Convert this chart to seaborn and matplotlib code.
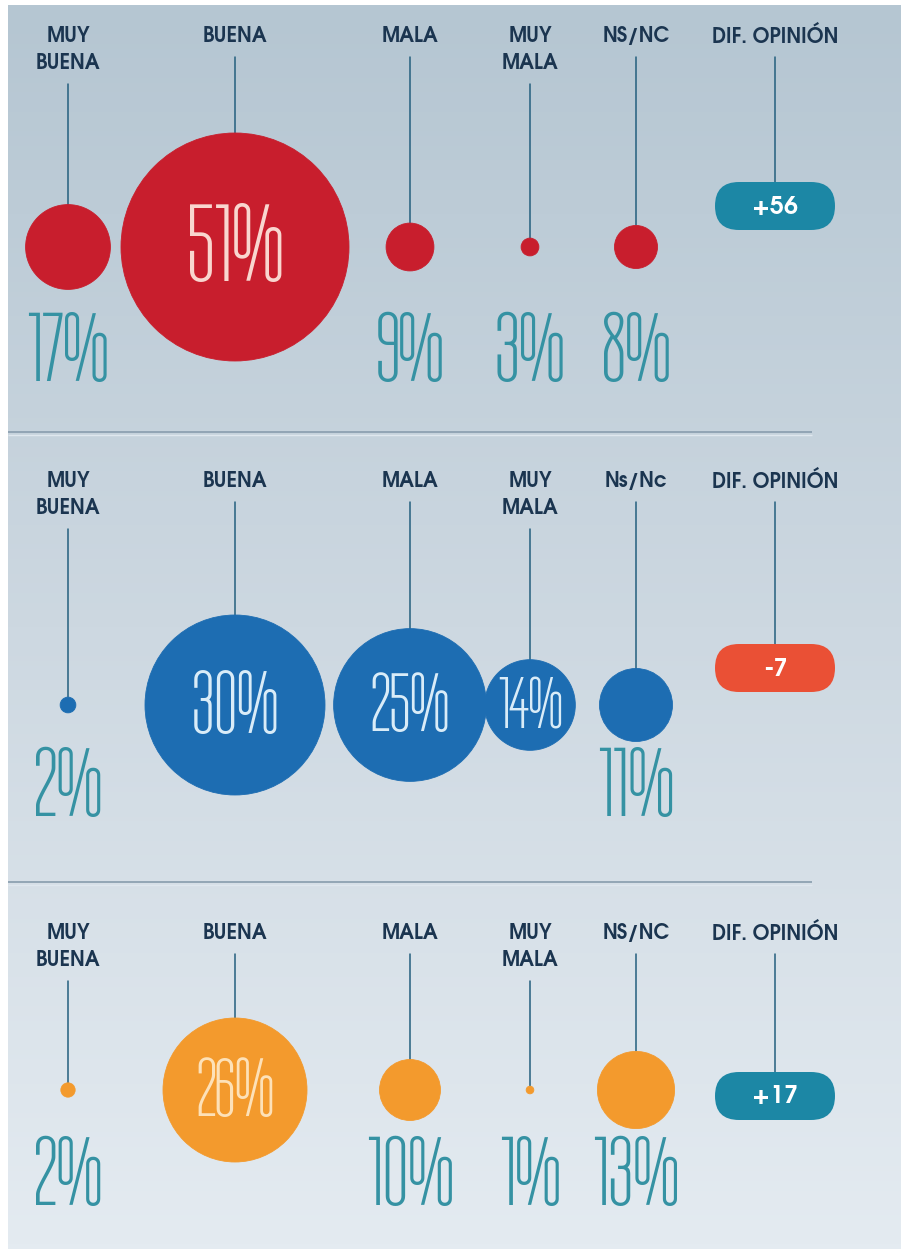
import numpy as np
import pandas as pd
import matplotlib
matplotlib.use("Agg")
import matplotlib.pyplot as plt
from matplotlib.patches import FancyBboxPatch
from matplotlib.colors import LinearSegmentedColormap
import seaborn as sns

# ---- data: opinion ratings (%) for three groups ----
categories_red = ["MUY\nBUENA", "BUENA", "MALA", "MUY\nMALA", "NS/NC"]
categories_blue = ["MUY\nBUENA", "BUENA", "MALA", "MUY\nMALA", "Ns/Nc"]
categories_orange = ["MUY\nBUENA", "BUENA", "MALA", "MUY\nMALA", "NS/NC"]
diff_title = "DIF. OPINIÓN"

values_red = [17, 51, 9, 3, 8]
values_blue = [2, 30, 25, 14, 11]
values_orange = [2, 26, 10, 1, 13]

# ---- style ----
sns.set_theme(style="white")
LABEL_FONT = ["TeX Gyre Adventor", "DejaVu Sans"]
NUM_FONT = ["Tulpen One", "DejaVu Sans"]
plt.rcParams["font.family"] = LABEL_FONT

BUBBLE_COLORS = ["#c81e2d", "#1d6db2", "#f39a2d"]
INNER_TEXT = ["#f9d6cf", "#d9ecf8", "#fde1b8"]
VALUE_COLOR = "#3592a3"
LABEL_COLOR = "#1b3550"
STEM_COLOR = "#245f7e"
PILL_POS = "#1c87a5"
PILL_NEG = "#ea5035"

W, H = 901, 1249
COL_X = [68, 235, 410, 530, 636]
DIFF_X = 775
BUBBLE_Y = [247, 705, 1090]
LABEL_Y = [36, 481, 933]
VALUE_Y = [345, 780, 1170]
PILL_Y = [206, 668, 1096]
RMAX = [114, 90, 72]          # radius (px) of the largest bubble in each block
SEP_Y = [432, 882]
PX2PT = 72 / 100

panels = [
    (categories_red, values_red),
    (categories_blue, values_blue),
    (categories_orange, values_orange),
]

fig = plt.figure(figsize=(W / 100, H / 100), dpi=100)
ax = fig.add_axes([0, 0, 1, 1])
ax.set_xlim(0, W)
ax.set_ylim(H, 0)
ax.axis("off")

# soft vertical background gradient with a thin white frame top/left
bg = LinearSegmentedColormap.from_list("bg", ["#b5c6d2", "#cdd8e1", "#e4ebf1"])
grad = np.linspace(0, 1, 256).reshape(-1, 1)
ax.imshow(grad, cmap=bg, extent=[8, W, H, 5], aspect="auto", zorder=0)
ax.add_patch(plt.Rectangle((0, 0), W, 5, color="white", zorder=0.5, lw=0))
ax.add_patch(plt.Rectangle((0, 0), 8, H, color="white", zorder=0.5, lw=0))

# separators between blocks
for y in SEP_Y:
    ax.plot([8, 812], [y, y], color="#8da1b1", lw=1.3, zorder=1, solid_capstyle="butt")
    ax.plot([8, 812], [y + 2.5, y + 2.5], color="#dfe7ee", lw=1.0, zorder=1, solid_capstyle="butt")


def draw_label(x, y0, text):
    lines = text.split("\n")
    for i, line in enumerate(lines):
        ax.text(x, y0 + i * 27, line, ha="center", va="center", fontsize=14.5,
                fontweight="bold", color=LABEL_COLOR, family=LABEL_FONT, zorder=4)
    return y0 + (len(lines) - 1) * 27 + 21


for p, (cats, vals) in enumerate(panels):
    vals = np.asarray(vals, dtype=float)
    radius = RMAX[p] * (vals / vals.max()) ** 0.9
    df = pd.DataFrame({
        "category": cats,
        "value": vals,
        "x": COL_X,
        "y": BUBBLE_Y[p],
        "s": (2 * radius * PX2PT) ** 2,
    })
    sns.scatterplot(data=df, x="x", y="y", s=df["s"], color=BUBBLE_COLORS[p],
                    edgecolor=BUBBLE_COLORS[p], linewidth=0.6, legend=False,
                    ax=ax, zorder=3)

    inside_cut = max(14, 0.4 * vals.max())
    for cat, v, x, r in zip(cats, vals, COL_X, radius):
        y_stem = draw_label(x, LABEL_Y[p], cat)
        ax.plot([x, x], [y_stem, BUBBLE_Y[p] - r], color=STEM_COLOR, lw=1.1, zorder=2)
        txt = f"{int(v)}%"
        if v >= inside_cut:
            # inner figure scales with the bubble so it stays inside it
            h_px = float(np.clip(0.68 * r, min(58, 1.12 * r), 77))
            ax.text(x, BUBBLE_Y[p] + 3, txt, ha="center", va="center",
                    fontsize=h_px * 1.06, color=INNER_TEXT[p],
                    family=NUM_FONT, zorder=5)
        else:
            ax.text(x, VALUE_Y[p] + 8, txt, ha="center", va="center",
                    fontsize=72, color=VALUE_COLOR,
                    family=NUM_FONT, zorder=5)

    # opinion balance: positive minus negative ratings
    diff = int(vals[0] + vals[1] - vals[2] - vals[3])
    y_stem = draw_label(DIFF_X, LABEL_Y[p], diff_title)
    pw, ph = 120, 48
    ax.plot([DIFF_X, DIFF_X], [y_stem, PILL_Y[p] - ph / 2], color=STEM_COLOR, lw=1.1, zorder=2)
    pill = FancyBboxPatch((DIFF_X - pw / 2 + ph / 2, PILL_Y[p]), pw - ph, 0,
                          boxstyle=f"round,pad={ph / 2},rounding_size={ph / 2}",
                          facecolor=PILL_POS if diff >= 0 else PILL_NEG,
                          edgecolor="none", zorder=3)
    ax.add_patch(pill)
    ax.text(DIFF_X, PILL_Y[p] + 1, f"{diff:+d}",
            ha="center", va="center", fontsize=18, fontweight="bold",
            color="white", family=LABEL_FONT, zorder=5)

fig.savefig("out.png", dpi=100)
